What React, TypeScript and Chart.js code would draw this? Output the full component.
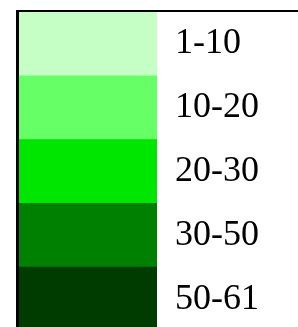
import React, { useEffect, useRef } from "react";
import { Chart, registerables } from "chart.js";

Chart.register(...registerables);

const binLabels = ["1-10", "10-20", "20-30", "30-50", "50-61"];
const binValues = [1, 1, 1, 1, 1];
const binColors = ["#c6ffc6", "#66ff66", "#00e600", "#008000", "#003c00"];

const framePlugin = {
  id: "frame",
  afterDraw(chart: any) {
    const { ctx, chartArea } = chart;
    ctx.save();
    ctx.fillStyle = "#000";
    ctx.fillRect(chartArea.left - 3, chartArea.top - 2, 3, chartArea.bottom - chartArea.top + 2);
    ctx.fillRect(chartArea.left - 3, chartArea.top - 2, chart.width, 2);
    ctx.restore();
  },
};

export default function App() {
  const ref = useRef<HTMLCanvasElement | null>(null);
  useEffect(() => {
    if (!ref.current) return;
    const chart = new Chart(ref.current, {
      type: "bar",
      data: {
        labels: binLabels,
        datasets: [
          {
            data: binValues,
            backgroundColor: binColors,
            borderWidth: 0,
            barPercentage: 1,
            categoryPercentage: 1,
          },
        ],
      },
      options: {
        indexAxis: "y",
        animation: false,
        responsive: false,
        events: [],
        layout: { padding: { left: 19, top: 12, right: 0, bottom: 14 } },
        plugins: { legend: { display: false }, tooltip: { enabled: false } },
        scales: {
          x: { display: false, min: 0, max: 1 },
          y: {
            position: "right",
            grid: { display: false, drawTicks: false },
            border: { display: false },
            ticks: {
              padding: 18,
              color: "#000",
              font: { family: "'Liberation Serif', 'Times New Roman', serif", size: 36 },
            },
            afterFit: (scale: any) => {
              scale.width = 141;
              scale.paddingTop = 0;
              scale.paddingBottom = 0;
            },
          },
        },
      },
      plugins: [framePlugin],
    });
    return () => chart.destroy();
  }, []);
  return (
    <div style={{ position: "fixed", left: 0, top: 0, width: 298, height: 345, background: "#fff" }}>
      <canvas ref={ref} width={298} height={345} style={{ display: "block" }} />
    </div>
  );
}
